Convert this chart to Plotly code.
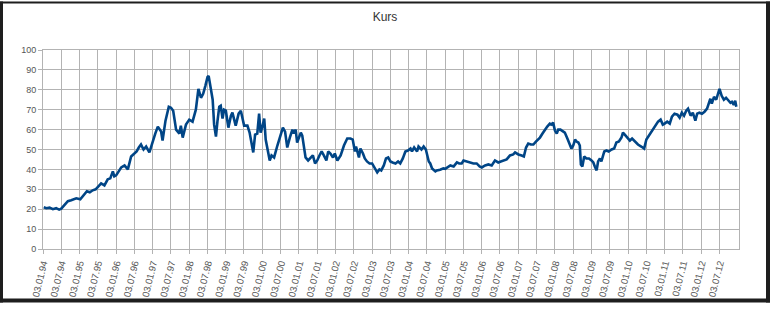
import numpy as np
import pandas as pd
import plotly.graph_objects as go

years = [
    1994.02, 1994.09, 1994.18, 1994.27, 1994.36, 1994.44, 1994.50, 1994.59, 1994.68, 1994.77,
    1994.91, 1995.02, 1995.11, 1995.20, 1995.28, 1995.36, 1995.44, 1995.52, 1995.59, 1995.68,
    1995.77, 1995.84, 1995.91, 1995.95, 1996.00, 1996.07, 1996.14, 1996.23, 1996.32, 1996.41,
    1996.50, 1996.56, 1996.62, 1996.68, 1996.75, 1996.82, 1996.91, 1996.95, 1997.00, 1997.07,
    1997.14, 1997.23, 1997.27, 1997.35, 1997.44, 1997.50, 1997.56, 1997.64, 1997.73, 1997.77,
    1997.82, 1997.91, 1998.00, 1998.09, 1998.18, 1998.25, 1998.32, 1998.38, 1998.44, 1998.50,
    1998.53, 1998.59, 1998.64, 1998.68, 1998.73, 1998.77, 1998.82, 1998.86, 1998.91, 1998.95,
    1999.00, 1999.07, 1999.14, 1999.18, 1999.27, 1999.35, 1999.41, 1999.50, 1999.59, 1999.65,
    1999.71, 1999.75, 1999.80, 1999.86, 1999.91, 1999.95, 2000.00, 2000.05, 2000.09, 2000.16,
    2000.20, 2000.25, 2000.32, 2000.41, 2000.50, 2000.56, 2000.62, 2000.68, 2000.75, 2000.82,
    2000.86, 2000.91, 2000.95, 2001.00, 2001.05, 2001.09, 2001.14, 2001.18, 2001.25, 2001.32,
    2001.38, 2001.44, 2001.50, 2001.56, 2001.62, 2001.68, 2001.75, 2001.80, 2001.86, 2001.93,
    2001.98, 2002.05, 2002.14, 2002.23, 2002.32, 2002.41, 2002.47, 2002.53, 2002.56, 2002.64,
    2002.68, 2002.75, 2002.80, 2002.86, 2002.93, 2003.00, 2003.07, 2003.14, 2003.20, 2003.25,
    2003.32, 2003.38, 2003.44, 2003.50, 2003.56, 2003.64, 2003.71, 2003.77, 2003.84, 2003.91,
    2003.98, 2004.05, 2004.09, 2004.15, 2004.23, 2004.27, 2004.35, 2004.41, 2004.47, 2004.55,
    2004.59, 2004.64, 2004.73, 2004.77, 2004.86, 2004.95, 2005.00, 2005.09, 2005.14, 2005.23,
    2005.32, 2005.38, 2005.45, 2005.50, 2005.59, 2005.68, 2005.77, 2005.86, 2005.94, 2006.00,
    2006.09, 2006.18, 2006.27, 2006.36, 2006.45, 2006.52, 2006.59, 2006.68, 2006.77, 2006.86,
    2006.91, 2007.00, 2007.09, 2007.15, 2007.21, 2007.27, 2007.34, 2007.41, 2007.48, 2007.55,
    2007.59, 2007.66, 2007.73, 2007.79, 2007.86, 2007.91, 2007.95, 2008.00, 2008.05, 2008.09,
    2008.15, 2008.21, 2008.27, 2008.34, 2008.39, 2008.45, 2008.50, 2008.55, 2008.59, 2008.64,
    2008.68, 2008.71, 2008.75, 2008.80, 2008.86, 2008.93, 2009.00, 2009.05, 2009.09, 2009.14,
    2009.18, 2009.23, 2009.27, 2009.35, 2009.41, 2009.47, 2009.55, 2009.62, 2009.68, 2009.75,
    2009.82, 2009.86, 2009.91, 2009.98, 2010.05, 2010.11, 2010.18, 2010.27, 2010.36, 2010.44,
    2010.50, 2010.59, 2010.65, 2010.73, 2010.82, 2010.89, 2010.95, 2011.00, 2011.07, 2011.14,
    2011.20, 2011.27, 2011.35, 2011.41, 2011.47, 2011.53, 2011.59, 2011.64, 2011.71, 2011.77,
    2011.84, 2011.89, 2011.95, 2012.02, 2012.09, 2012.16, 2012.20, 2012.25, 2012.29, 2012.35,
    2012.41, 2012.45, 2012.50, 2012.56, 2012.62, 2012.68, 2012.75, 2012.80, 2012.84, 2012.89,
    2012.93, 2012.96,
]

kurs = [
    21.0, 20.5, 20.8, 20.0, 20.5, 19.8, 20.3, 22.0, 24.0, 24.5,
    25.5, 25.0, 27.0, 29.0, 28.5, 29.5, 30.0, 31.5, 33.0, 32.0,
    35.0, 35.5, 39.0, 36.5, 37.0, 39.0, 41.0, 42.0, 40.0, 46.5,
    48.0, 49.0, 51.0, 52.5, 50.0, 51.5, 48.5, 51.0, 53.0, 58.0,
    61.5, 59.0, 54.5, 64.5, 71.5, 71.0, 69.5, 60.0, 58.0, 62.0,
    56.0, 62.5, 65.0, 64.0, 70.0, 80.5, 76.0, 78.0, 82.0, 86.5,
    87.0, 80.5, 75.0, 62.5, 56.5, 64.0, 71.5, 72.0, 65.5, 70.0,
    69.5, 61.0, 67.0, 68.5, 62.0, 68.0, 69.5, 62.0, 62.0, 58.5,
    51.0, 48.5, 57.5, 58.0, 68.0, 58.5, 61.5, 65.5, 55.0, 48.5,
    44.5, 47.0, 46.0, 52.0, 57.0, 61.0, 59.0, 51.0, 56.0, 60.0,
    58.0, 60.0, 53.5, 56.5, 58.5, 57.0, 51.0, 46.0, 44.5, 46.0,
    47.0, 43.0, 44.5, 47.0, 49.0, 47.0, 44.5, 49.0, 48.0, 46.0,
    48.0, 44.5, 47.0, 52.0, 55.5, 55.5, 55.0, 49.0, 51.5, 46.0,
    50.5, 48.0, 45.5, 44.0, 43.0, 43.0, 40.5, 38.5, 40.0, 39.5,
    42.0, 45.5, 46.0, 44.0, 43.5, 43.0, 44.0, 43.0, 45.5, 49.0,
    49.5, 50.5, 49.0, 51.0, 49.0, 51.5, 50.0, 51.5, 50.0, 44.0,
    43.0, 40.5, 39.0, 39.5, 39.8, 40.5, 40.3, 41.5, 42.0, 41.5,
    43.5, 43.0, 43.0, 44.5, 44.0, 43.5, 43.0, 43.0, 41.5, 41.0,
    42.0, 42.5, 42.0, 44.5, 43.5, 44.0, 44.5, 45.0, 47.0, 47.5,
    48.5, 47.5, 47.0, 46.5, 51.0, 53.0, 52.5, 52.5, 54.0, 55.0,
    56.0, 58.0, 60.0, 61.5, 63.0, 62.5, 63.5, 59.5, 58.0, 60.0,
    60.0, 59.0, 58.5, 55.5, 53.0, 50.5, 52.0, 55.0, 54.0, 53.5,
    52.0, 42.5, 41.5, 46.5, 45.5, 45.5, 44.5, 43.5, 41.5, 39.5,
    44.0, 45.5, 44.0, 49.0, 49.5, 49.0, 50.0, 50.5, 53.5, 54.0,
    56.0, 58.5, 57.5, 56.0, 54.5, 55.5, 54.0, 52.5, 51.5, 50.5,
    55.0, 57.5, 59.0, 61.0, 64.0, 65.0, 62.5, 63.0, 64.0, 63.0,
    66.5, 68.0, 67.5, 66.0, 68.5, 67.0, 69.5, 70.5, 67.0, 68.5,
    64.5, 68.0, 68.5, 68.0, 69.0, 70.5, 73.0, 75.5, 73.0, 76.5,
    75.0, 78.0, 80.5, 77.0, 75.0, 76.0, 74.5, 73.5, 74.0, 72.5,
    74.5, 71.5,
]

tick_labels = [
    "03.01.94", "03.07.94", "03.01.95", "03.07.95", "03.01.96", "03.07.96",
    "03.01.97", "03.07.97", "03.01.98", "03.07.98", "03.01.99", "03.07.99",
    "03.01.00", "03.07.00", "03.01.01", "03.07.01", "03.01.02", "03.07.02",
    "03.01.03", "03.07.03", "03.01.04", "03.07.04", "03.01.05", "03.07.05",
    "03.01.06", "03.07.06", "03.01.07", "03.07.07", "03.01.08", "03.07.08",
    "03.01.09", "03.07.09", "03.01.10", "03.07.10", "03.01.11", "03.07.11",
    "03.01.12", "03.07.12",
]

title_text = "Kurs"

start = pd.Timestamp("1994-01-03")
dates = start + pd.to_timedelta((np.array(years) - 1994.0) * 365.25, unit="D")
tick_vals = pd.to_datetime(tick_labels, format="%d.%m.%y")

W, H = 770, 310
ML, MR, MT, MB = 43, 31, 50, 55
PW, PH = W - ML - MR, H - MT - MB

fig = go.Figure()
fig.add_trace(go.Scatter(
    x=dates, y=kurs, mode="lines",
    line=dict(color="#004586", width=2.6),
    showlegend=False, hoverinfo="skip",
))

def px_x(p):
    return (p - ML) / PW

def px_y(p):
    return (H - MB - p) / PH

frame = "#1e1e1e"
shapes = []
for x0, y0, x1, y1 in [(0, 0, 3, H), (766, 0, W, H), (0, 0, W, 2), (0, 306, W, H)]:
    shapes.append(dict(type="rect", xref="paper", yref="paper",
                       x0=px_x(x0), x1=px_x(x1), y0=px_y(y1), y1=px_y(y0),
                       fillcolor=frame, line=dict(width=0), layer="above"))

fig.update_layout(
    width=W, height=H,
    margin=dict(l=ML, r=MR, t=MT, b=MB),
    paper_bgcolor="white", plot_bgcolor="white",
    font=dict(family="Liberation Sans, Arial, sans-serif", color="#555555"),
    title=dict(text=title_text, x=0.5, xanchor="center", xref="container",
               y=1 - 17 / H, yanchor="middle", yref="container",
               font=dict(size=12, color="#333333")),
    shapes=shapes,
)
fig.update_xaxes(
    type="date",
    range=[start, pd.Timestamp("2013-01-15")],
    tickvals=tick_vals, ticktext=tick_labels,
    tickangle=-76, tickfont=dict(size=9.5, color="#555555"),
    showgrid=True, gridcolor="#b3b3b3", gridwidth=1,
    showline=True, linecolor="#b3b3b3", mirror=True,
    ticks="outside", ticklen=4, tickcolor="#b3b3b3",
    zeroline=False,
)
fig.update_yaxes(
    range=[0, 100], dtick=10, tick0=0,
    tickfont=dict(size=9, color="#555555"),
    showgrid=True, gridcolor="#b3b3b3", gridwidth=1,
    showline=True, linecolor="#b3b3b3", mirror=True,
    ticks="outside", ticklen=4, tickcolor="#b3b3b3",
    zeroline=False,
)

fig.write_html("out.html")
